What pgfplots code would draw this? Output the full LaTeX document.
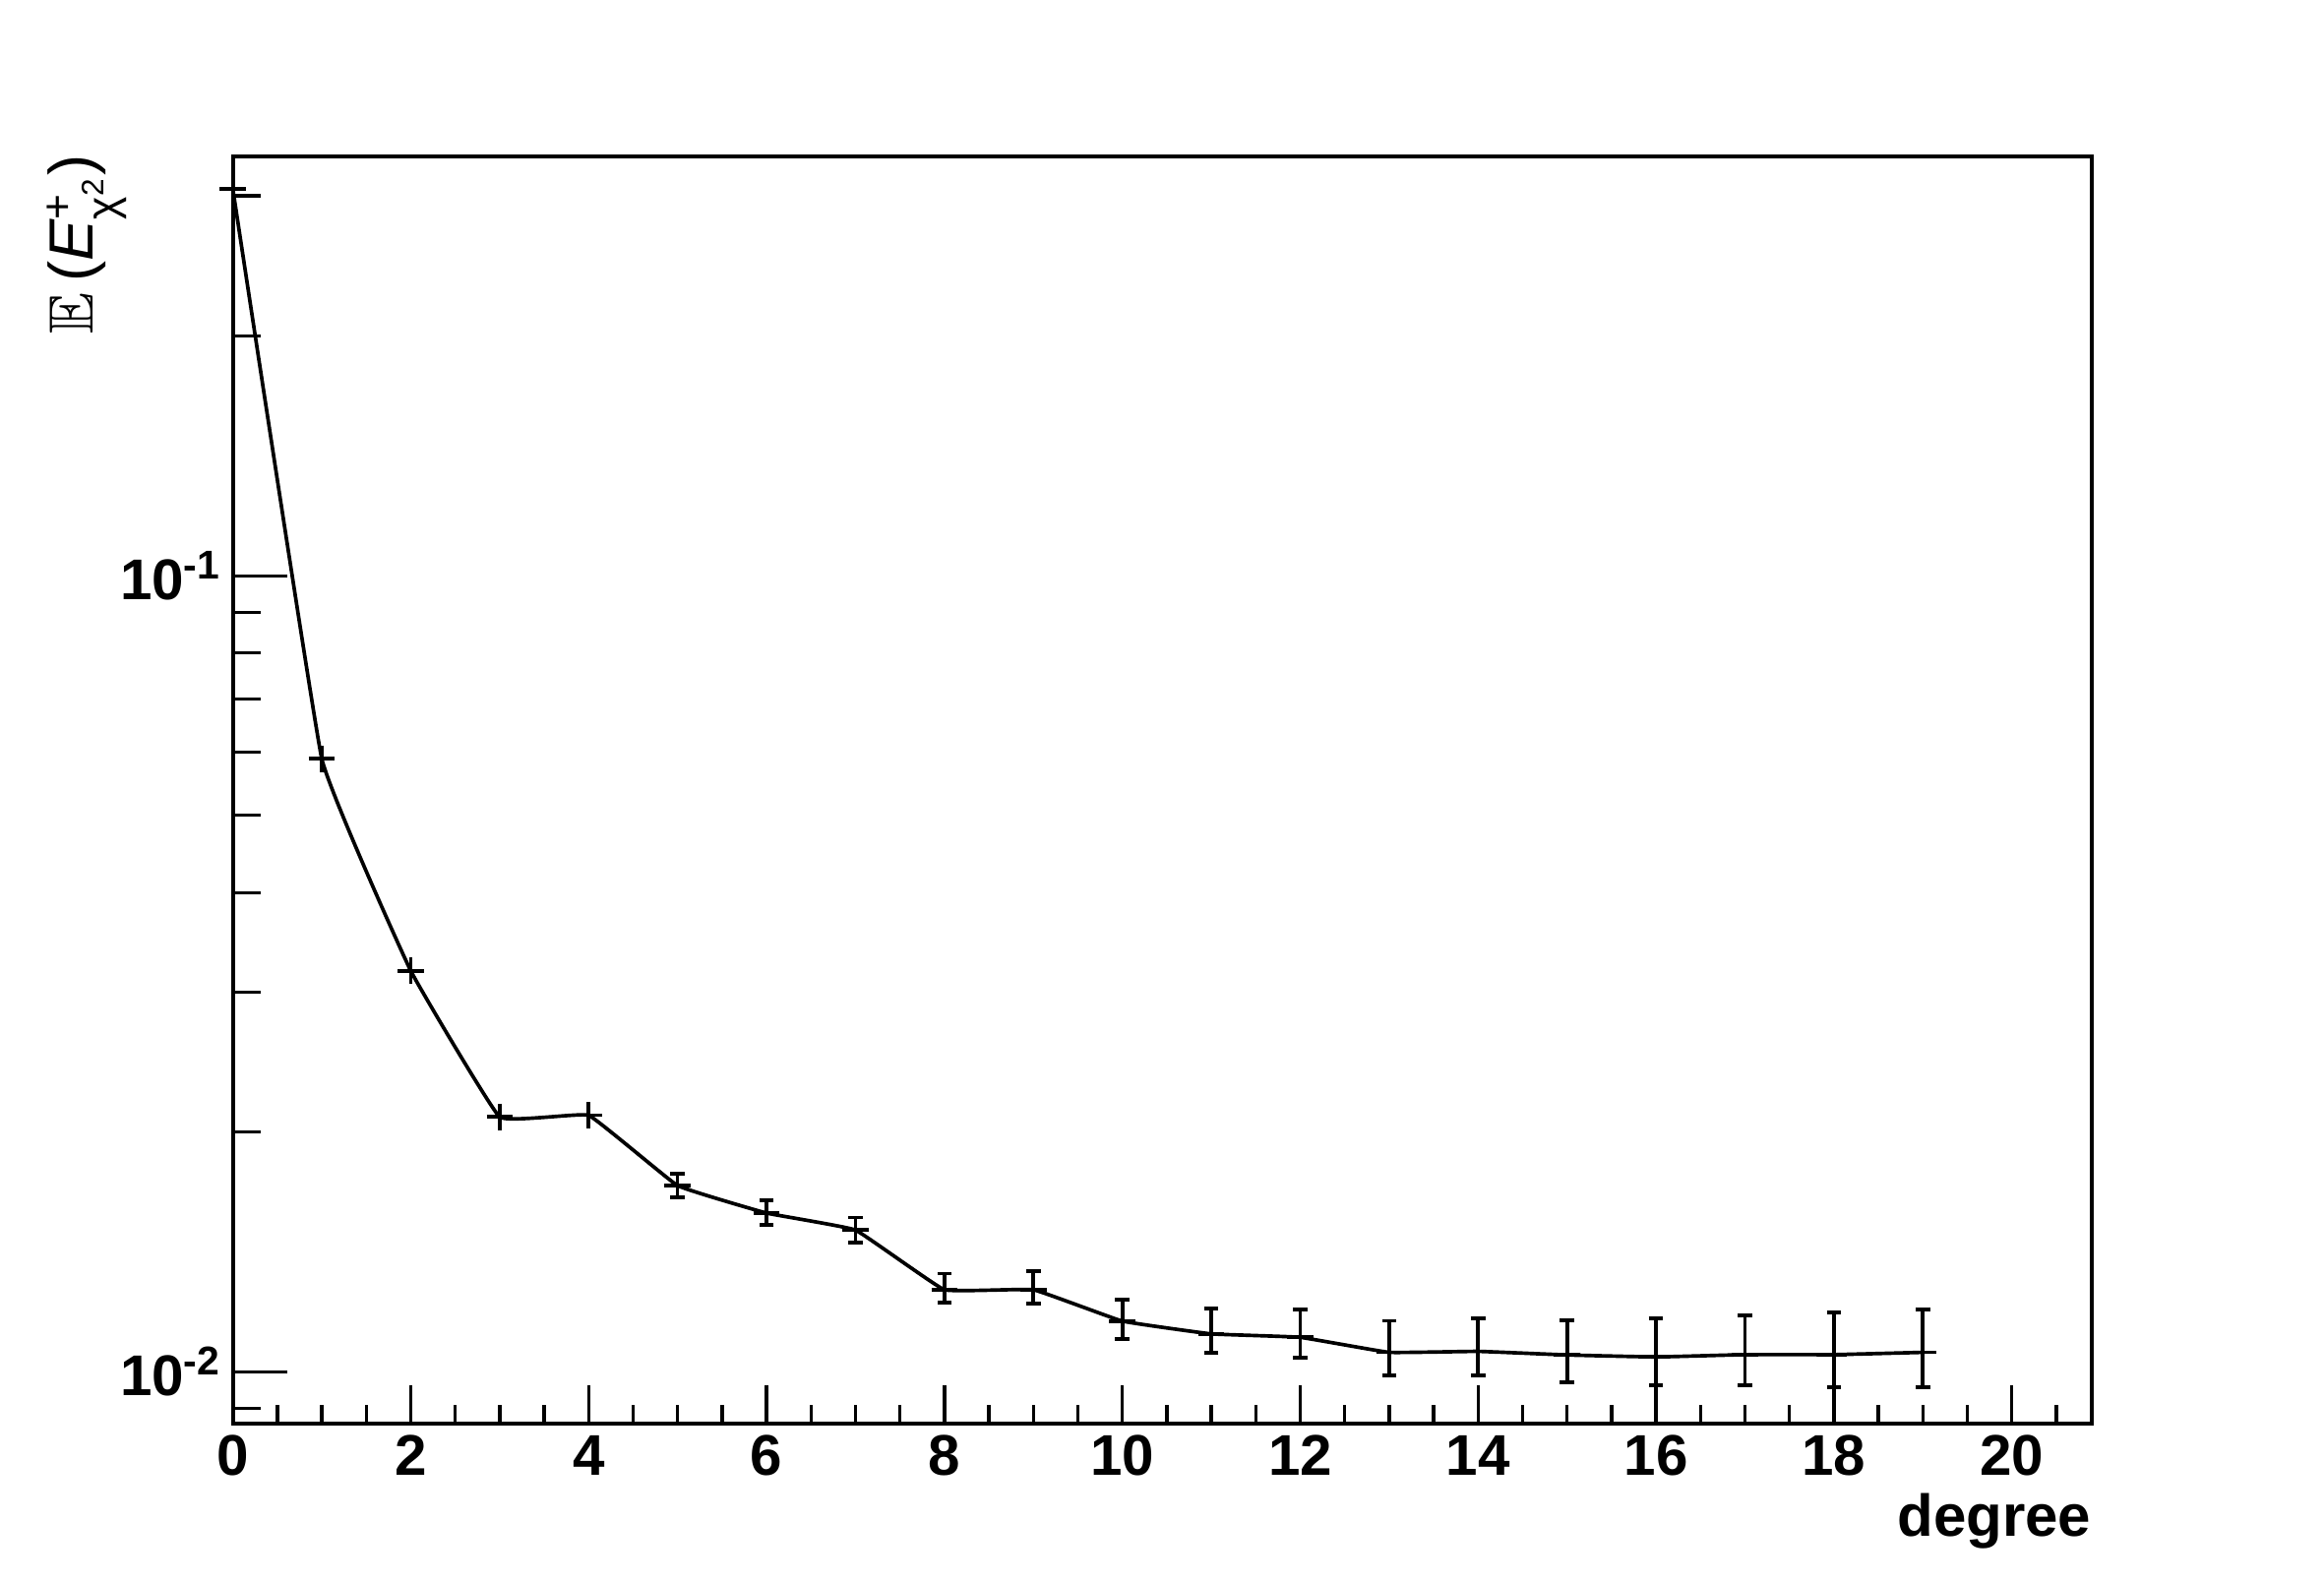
\documentclass[border=0pt]{standalone}
\usepackage{amsmath}
\usepackage{amssymb}
\usepackage{fontspec}
\setmainfont{Liberation Sans}
\usepackage{pgfplots}
\usepackage{pgfplotstable}
\pgfplotsset{compat=1.18}

% degree, mean value, upper/lower error
\pgfplotstableread{
x  y        ep       em
0  0.306    0        0
1  0.0589   0        0
2  0.0319   0        0
3  0.0209   0        0
4  0.0210   0        0
5  0.01714  0.00060  0.00057
6  0.01583  0.00059  0.00054
7  0.01507  0.00056  0.00053
8  0.01268  0.00061  0.00047
9  0.01268  0.00071  0.00050
10 0.01158  0.00075  0.00058
11 0.01116  0.00084  0.00060
12 0.01105  0.00092  0.00064
13 0.01058  0.00101  0.00068
14 0.01061  0.00106  0.00071
15 0.01050  0.00111  0.00080
16 0.01044  0.00123  0.00082
17 0.01051  0.00127  0.00089
18 0.01051  0.00136  0.00095
19 0.01058  0.00140  0.00101
}\chisq

\begin{document}
\begin{tikzpicture}
\begin{axis}[
  scale only axis,
  width=566.8pt, height=386.4pt,
  ymode=log,
  xmin=0, xmax=20.9,
  ymin=0.0086, ymax=0.336,
  clip=false,
  axis line style={line width=1.2pt},
  tick align=inside,
  xtick pos=bottom, ytick pos=left,
  xtick={0,2,...,20},
  xticklabels={0,2,4,6,8,10,12,14,16,18,20},
  minor xtick={0,0.5,...,20.5},
  ytick={0.01,0.1},
  yticklabels={10\textsuperscript{-2},10\textsuperscript{-1}},
  minor ytick={0.009,0.02,0.03,0.04,0.05,0.06,0.07,0.08,0.09,0.2,0.3},
  tick style={black},
  x tick style={black, line width=1pt, /pgfplots/major tick length=11.7pt, /pgfplots/minor tick length=5.9pt},
  y tick style={black, line width=1pt, /pgfplots/major tick length=16.5pt, /pgfplots/minor tick length=8.4pt},
  tick label style={font=\fontsize{17.5}{18}\selectfont\bfseries},
  xlabel={degree},
  xlabel style={at={(rel axis cs:1,-0.0883)}, anchor=base east, inner sep=0pt,
    font=\fontsize{18}{18}\selectfont\bfseries},
  ylabel={\mbox{$\mathbb{E}$\,(\textit{E}$^{\text{+}}_{\text{χ}^{\text{2}}}$)}},
  ylabel style={at={(rel axis cs:-0.1004,1.0018)}, anchor=north east, inner sep=0pt,
    font=\fontsize{19}{19}\selectfont},
]
\addplot[black, line width=1.1pt, smooth, tension=0.15] table[x=x, y=y] {\chisq};
\addplot[black, only marks, mark=+, mark size=4pt, line width=1.1pt,
  error bars/.cd, y dir=both, y explicit,
  error bar style={line width=1.1pt},
  error mark=-, error mark options={rotate=90, mark size=2.2pt, line width=1.1pt}]
  table[x=x, y=y, y error plus=ep, y error minus=em] {\chisq};
\end{axis}
\path (current axis.south west) ++(-71pt,-48.2pt) rectangle ++(708.6pt,482.4pt);
\end{tikzpicture}
\end{document}
